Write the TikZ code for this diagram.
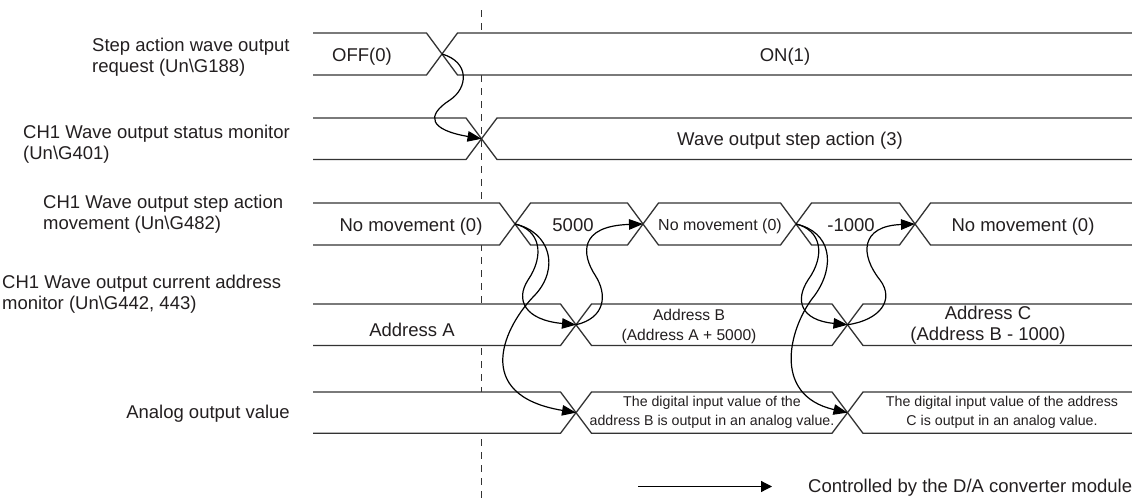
\documentclass[tikz,border=0pt]{standalone}
\usepackage{fontspec}
\setmainfont{Liberation Sans}
\usetikzlibrary{arrows.meta}
\definecolor{ln}{HTML}{333333}
\definecolor{tx}{HTML}{231F20}
\begin{document}
\begin{tikzpicture}[x=1pt,y=-1pt,
  sig/.style={draw=ln, line width=1.3pt, fill=white, line join=miter},
  ctl/.style={draw=black, line width=1.2pt, -{Triangle[length=14pt,width=10.5pt]}},
  big/.style={font=\fontsize{18.5}{21.5}\selectfont, text=tx, inner sep=0pt},
  adb/.style={font=\fontsize{15.6}{20}\selectfont, text=tx, inner sep=0pt},
  mid/.style={font=\fontsize{16}{20}\selectfont, text=tx, inner sep=0pt},
  sm/.style={font=\fontsize{14.2}{19}\selectfont, text=tx, inner sep=0pt}]
\useasboundingbox (0,0) rectangle (1132,498);
% time marker
\draw[ln, line width=1.2pt, dash pattern=on 7pt off 6pt] (481.5,10) -- (481.5,498);
% row 1
\filldraw[sig] (313,33) -- (426.5,33) -- (442,54) -- (426.5,75) -- (313,75);
\filldraw[sig] (1132,33) -- (457.5,33) -- (442,54) -- (457.5,75) -- (1132,75);
% row 2
\filldraw[sig] (313,118) -- (466,118) -- (481.5,138.75) -- (466,159.5) -- (313,159.5);
\filldraw[sig] (1132,118) -- (497,118) -- (481.5,138.75) -- (497,159.5) -- (1132,159.5);
% row 3
\filldraw[sig] (313,203) -- (499.5,203) -- (515,224) -- (499.5,245) -- (313,245);
\filldraw[sig] (515,224) -- (530.5,203) -- (627.5,203) -- (643,224) -- (627.5,245) -- (530.5,245) -- cycle;
\filldraw[sig] (643,224) -- (658.5,203) -- (780.5,203) -- (796,224) -- (780.5,245) -- (658.5,245) -- cycle;
\filldraw[sig] (796,224) -- (811.5,203) -- (899.5,203) -- (915,224) -- (899.5,245) -- (811.5,245) -- cycle;
\filldraw[sig] (1132,203) -- (930.5,203) -- (915,224) -- (930.5,245) -- (1132,245);
% row 4
\filldraw[sig] (313,304) -- (560.5,304) -- (576,324.75) -- (560.5,345.5) -- (313,345.5);
\filldraw[sig] (576,324.75) -- (591.5,304) -- (832,304) -- (847.5,324.75) -- (832,345.5) -- (591.5,345.5) -- cycle;
\filldraw[sig] (1132,304) -- (863,304) -- (847.5,324.75) -- (863,345.5) -- (1132,345.5);
% row 5
\filldraw[sig] (313,392) -- (560.5,392) -- (576,412.65) -- (560.5,433.3) -- (313,433.3);
\filldraw[sig] (576,412.65) -- (591.5,392) -- (832,392) -- (847.5,412.65) -- (832,433.3) -- (591.5,433.3) -- cycle;
\filldraw[sig] (1132,392) -- (863,392) -- (847.5,412.65) -- (863,433.3) -- (1132,433.3);
% crossing points
\coordinate (x1) at (442,54);
\coordinate (x2) at (481.5,138.75);
\coordinate (a1) at (515,224);
\coordinate (a2) at (643,224);
\coordinate (a3) at (796,224);
\coordinate (a4) at (915,224);
\coordinate (b1) at (576,324.75);
\coordinate (b2) at (847.5,324.75);
\coordinate (d1) at (576,412.65);
\coordinate (d2) at (847.5,412.65);
% signal names
\node[big, align=left, anchor=west] (l1) at (92,57) {Step action wave output\\request (Un\textbackslash G188)};
\node[big, align=left, anchor=west] (l2) at (23,144) {CH1 Wave output status monitor\\(Un\textbackslash G401)};
\node[big, align=left, anchor=west] (l3) at (43,214) {CH1 Wave output step action\\movement (Un\textbackslash G482)};
\node[big, align=left, anchor=west] (l4) at (2,294) {CH1 Wave output current address\\monitor (Un\textbackslash G442, 443)};
\node[big, anchor=base east] (l5) at (290,418.6) {Analog output value};
% values
\node[big, anchor=base] (off) at (362,61) {OFF(0)};
\node[big, anchor=base] (on) at (785,61) {ON(1)};
\node[big, anchor=base] (wo) at (790,145.6) {Wave output step action (3)};
\node[big, anchor=base] (nm1) at (411,231.6) {No movement (0)};
\node[big, anchor=base] (v5) at (573,231.6) {5000};
\node[mid, anchor=base] (nm2) at (720,230.7) {No movement (0)};
\node[big, anchor=base] (vm) at (851,231.6) {-1000};
\node[big, anchor=base] (nm3) at (1023,231.6) {No movement (0)};
\node[big, anchor=base] (adA) at (412,336) {Address A};
\node[adb, align=center] (adB) at (689,326) {Address B\\(Address A + 5000)};
\node[big, align=center, font=\fontsize{18.5}{21}\selectfont] (adC) at (988,325.5) {Address C\\(Address B - 1000)};
\node[sm, align=center] (anB) at (712,412.5) {The digital input value of the\\address B is output in an analog value.};
\node[sm, align=center] (anC) at (1002,412.5) {The digital input value of the address\\C is output in an analog value.};
% control arrows
\draw[ctl] (x1) .. controls (470,62) and (468,88) .. (450,100) .. controls (425,116) and (430,130) .. (x2);
\draw[ctl] (a1) .. controls (540,230) and (545,255) .. (528,280) .. controls (515,300) and (525,320) .. (b1);
\draw[ctl] (a1) .. controls (550,232) and (560,268) .. (535,295) .. controls (505,325) and (470,395) .. (d1);
\draw[ctl] (b1) .. controls (605,318) and (608,295) .. (595,275) .. controls (582,255) and (578,226) .. (a2);
\draw[ctl] (a3) .. controls (821,230) and (826,255) .. (808,280) .. controls (795,300) and (800,320) .. (b2);
\draw[ctl] (a3) .. controls (831,232) and (836,265) .. (815,295) .. controls (790,325) and (770,395) .. (d2);
\draw[ctl] (b2) .. controls (880,320) and (895,300) .. (880,280) .. controls (860,255) and (860,226) .. (a4);
% legend
\coordinate (lg1) at (638,486.5);
\coordinate (lg2) at (772,486.5);
\draw[black, line width=1.2pt, -{Triangle[length=11pt,width=11pt]}] (lg1) -- (lg2);
\node[big, anchor=base west] (lgt) at (808,492.6) {Controlled by the D/A converter module};
\end{tikzpicture}
\end{document}
